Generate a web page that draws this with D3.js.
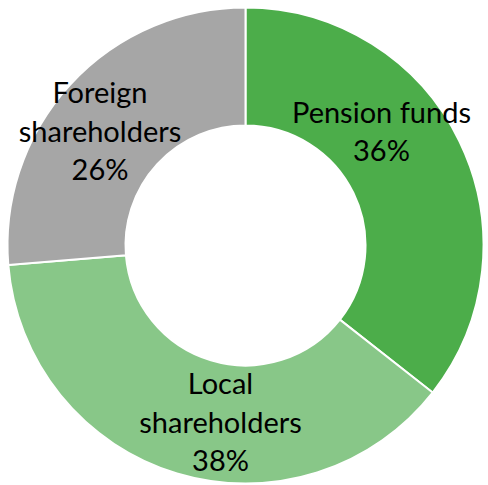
<!DOCTYPE html>
<html>
<head>
<meta charset="utf-8">
<script src="https://cdn.jsdelivr.net/npm/d3@7"></script>
<style>
  body { margin: 0; background: #fff; }
  text { font-family: Lato, "Open Sans", sans-serif; fill: #000; }
</style>
</head>
<body>
<div id="chart"></div>
<script>
var labels = [["Pension funds", "36%"], ["Local", "shareholders", "38%"], ["Foreign", "shareholders", "26%"]];
// slice sizes as drawn in the picture (labels show the rounded figures)
var values = [35.6, 38.1, 26.3];
var colors = ["#4cad4a", "#88c788", "#a6a6a6"];
// label anchor points (relative to centre)
var labelPos = [[136, -113], [-25, 178], [-145.5, -113]];

var width = 488, height = 485;
var cx = 245.5, cy = 245.5, outerR = 238, innerR = 120;

var svg = d3.select("#chart").append("svg")
  .attr("width", width)
  .attr("height", height)
.append("g")
  .attr("transform", "translate(" + cx + "," + cy + ")");

var pie = d3.pie().sort(null).value(function(d){ return d; });
var arc = d3.arc().innerRadius(innerR).outerRadius(outerR);

svg.selectAll(".slice")
    .data(pie(values))
  .enter().append("path")
    .attr("class", "slice")
    .attr("d", arc)
    .attr("fill", function(d, i){ return colors[i]; })
    .attr("stroke", "#fff")
    .attr("stroke-width", 2);

var lineH = 38.5;
labels.forEach(function(lines, i){
  var t = svg.append("text")
    .attr("text-anchor", "middle")
    .style("font-size", "29px");
  var n = lines.length;
  lines.forEach(function(s, j){
    t.append("tspan")
      .attr("x", labelPos[i][0])
      .attr("y", labelPos[i][1] + (j - (n - 1) / 2) * lineH)
      .attr("dy", "0.32em")
      .text(s);
  });
});
</script>
</body>
</html>
